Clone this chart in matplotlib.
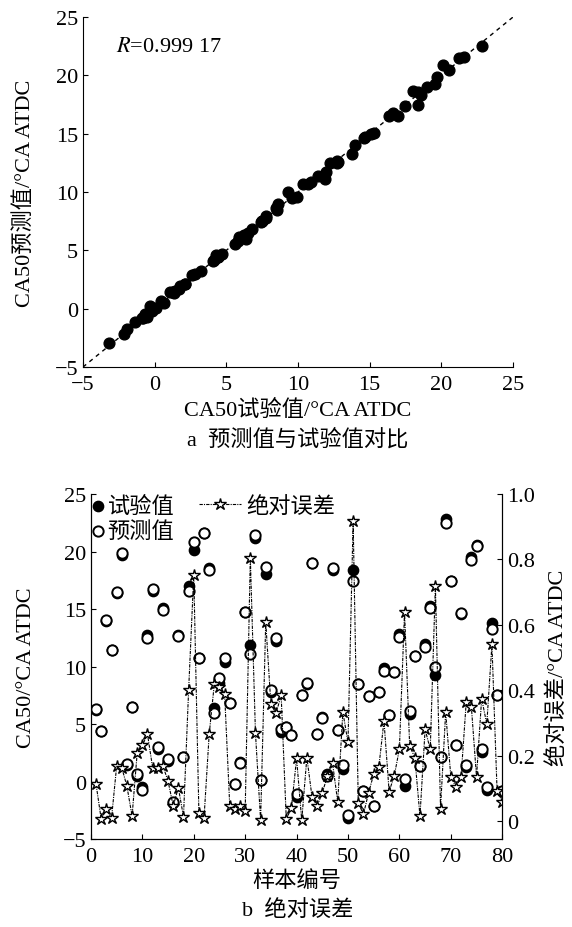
import numpy as np
import matplotlib
matplotlib.use("Agg")
import matplotlib.pyplot as plt

plt.rcParams['font.family'] = ['Liberation Serif', 'Noto Sans CJK SC']
plt.rcParams['mathtext.fontset'] = 'stix'
plt.rcParams['font.size'] = 16
plt.rcParams['xtick.direction'] = 'in'
plt.rcParams['ytick.direction'] = 'in'
plt.rcParams['xtick.major.pad'] = 6

# 样本编号 1..80
sample_no = list(range(1, 81))

# 试验值
ca50_test = [6.2, 4.4, 14.0, 11.4, 16.35, 19.7, 1.4, 6.5, 0.45, -0.5,
             12.75, 16.6, 2.8, 15.1, 1.8, -1.9, 12.7, 2.1, 17.0, 20.1,
             10.7, 21.6, 18.6, 6.35, 8.6, 10.35, 6.8, -0.2, 1.7, 14.7,
             11.9, 21.2, 0.1, 18.05, 7.75, 12.2, 4.3, 4.7, 4.05, -1.35,
             7.5, 8.45, 19.0, 4.15, 5.6, 0.65, 18.4, 4.45, 1.1, -3.15,
             18.4, 8.5, -0.8, 7.4, -2.15, 7.75, 9.9, 5.8, 9.55, 12.8,
             -0.35, 5.85, 10.9, 1.35, 11.95, 15.3, 9.3, 2.1, 22.8, 17.45,
             3.2, 14.6, 1.25, 19.55, 20.55, 2.6, -0.7, 13.75, 7.5, -0.85]

# 预测值
ca50_pred = [6.3, 4.4, 14.05, 11.4, 16.5, 19.85, 1.5, 6.5, 0.65, -0.75,
             12.5, 16.75, 3.0, 14.95, 1.95, -1.75, 12.65, 2.1, 16.55, 20.85,
             10.7, 21.6, 18.35, 5.95, 9.0, 10.7, 6.8, -0.2, 1.65, 14.7,
             11.1, 21.45, 0.1, 18.65, 7.95, 12.5, 4.6, 4.7, 4.05, -1.1,
             7.5, 8.6, 19.0, 4.15, 5.55, 0.5, 18.6, 4.45, 1.45, -2.9,
             17.45, 8.45, -0.8, 7.4, -2.15, 7.75, 9.6, 5.8, 9.5, 12.6,
             0.25, 6.15, 10.9, 1.35, 11.7, 15.1, 10.0, 2.1, 22.5, 17.4,
             3.2, 14.65, 1.4, 19.25, 20.5, 2.85, -0.45, 13.25, 7.5, -0.8]

# 绝对误差
abs_err = [0.113, 0.006, 0.037, 0.009, 0.169, 0.164, 0.107, 0.016, 0.210, 0.232,
           0.266, 0.164, 0.164, 0.169, 0.123, 0.047, 0.103, 0.014, 0.401, 0.752,
           0.024, 0.011, 0.266, 0.42, 0.41, 0.39, 0.047, 0.037, 0.047, 0.031,
           0.806, 0.27, 0.003, 0.609, 0.358, 0.33, 0.385, 0.006, 0.042, 0.192,
           0.003, 0.195, 0.075, 0.047, 0.087, 0.139, 0.177, 0.060, 0.334, 0.241,
           0.917, 0.057, 0.021, 0.087, 0.144, 0.166, 0.307, 0.091, 0.139, 0.221,
           0.64, 0.23, 0.195, 0.016, 0.281, 0.22, 0.72, 0.039, 0.334, 0.136,
           0.105, 0.136, 0.365, 0.35, 0.136, 0.375, 0.297, 0.541, 0.093, 0.060]

fig = plt.figure(figsize=(5.72, 9.28), dpi=100)

# ---- a 预测值与试验值对比 ----
ax = fig.add_axes([0.145, 0.6034, 0.752, 0.3772])
ax.plot([-5, 25], [-5, 25], color='black', lw=1.0, ls=(0, (3, 3)))
ax.scatter(ca50_test, ca50_pred, s=60, color='black', zorder=3)
ax.set_xlim(-5, 25)
ax.set_ylim(-5, 25)
ax.set_xticks(range(-5, 26, 5))
ax.set_yticks(range(-5, 26, 5))
ax.spines['top'].set_visible(False)
ax.spines['right'].set_visible(False)
ax.set_xlabel('CA50试验值/°CA ATDC', labelpad=3)
ax.set_ylabel('CA50预测值/°CA ATDC', labelpad=14)
ax.text(-2.7, 22.5, '$R$=0.999 17', ha='left', va='center')
fig.text(0.52, 0.526, 'a  预测值与试验值对比', ha='center', va='center')

# ---- b 绝对误差 ----
ax1 = fig.add_axes([0.159, 0.0948, 0.719, 0.3718])
ax1.scatter(sample_no, ca50_test, s=55, color='black', zorder=2, label='试验值')
ax1.scatter(sample_no, ca50_pred, s=55, facecolor='white', edgecolor='black',
            linewidth=1.4, zorder=3, label='预测值')
ax1.set_xlim(0, 80)
ax1.set_ylim(-5, 25)
ax1.set_xticks(range(0, 81, 10))
ax1.set_yticks(range(-5, 26, 5))
ax1.spines['top'].set_visible(False)
ax1.set_xlabel('样本编号', labelpad=3)
ax1.set_ylabel('CA50/°CA ATDC', labelpad=19)

ax2 = ax1.twinx()
ax2.plot(sample_no, abs_err, color='black', lw=0.8, ls=(0, (3, 1, 1, 1)),
         marker='*', markersize=9, markerfacecolor='white',
         markeredgecolor='black', markeredgewidth=1.0, label='绝对误差')
ax2.set_ylim(-0.054, 1.0)
ax2.set_yticks([0, 0.2, 0.4, 0.6, 0.8, 1.0])
ax2.set_yticklabels(['0', '0.2', '0.4', '0.6', '0.8', '1.0'])
ax2.spines['top'].set_visible(False)
ax2.set_ylabel('绝对误差/°CA ATDC', labelpad=9)

ax1.legend(loc='upper left', bbox_to_anchor=(0.0, 0.995), frameon=False,
           scatterpoints=1, handlelength=0.6, handletextpad=0.15,
           labelspacing=0.2, borderpad=0, borderaxespad=0)
ax2.legend(loc='upper left', bbox_to_anchor=(0.262, 0.995), frameon=False,
           handlelength=1.9, handletextpad=0.25,
           borderpad=0, borderaxespad=0)

fig.text(0.52, 0.019, 'b  绝对误差', ha='center', va='center')

fig.savefig('out.png', dpi=100)
